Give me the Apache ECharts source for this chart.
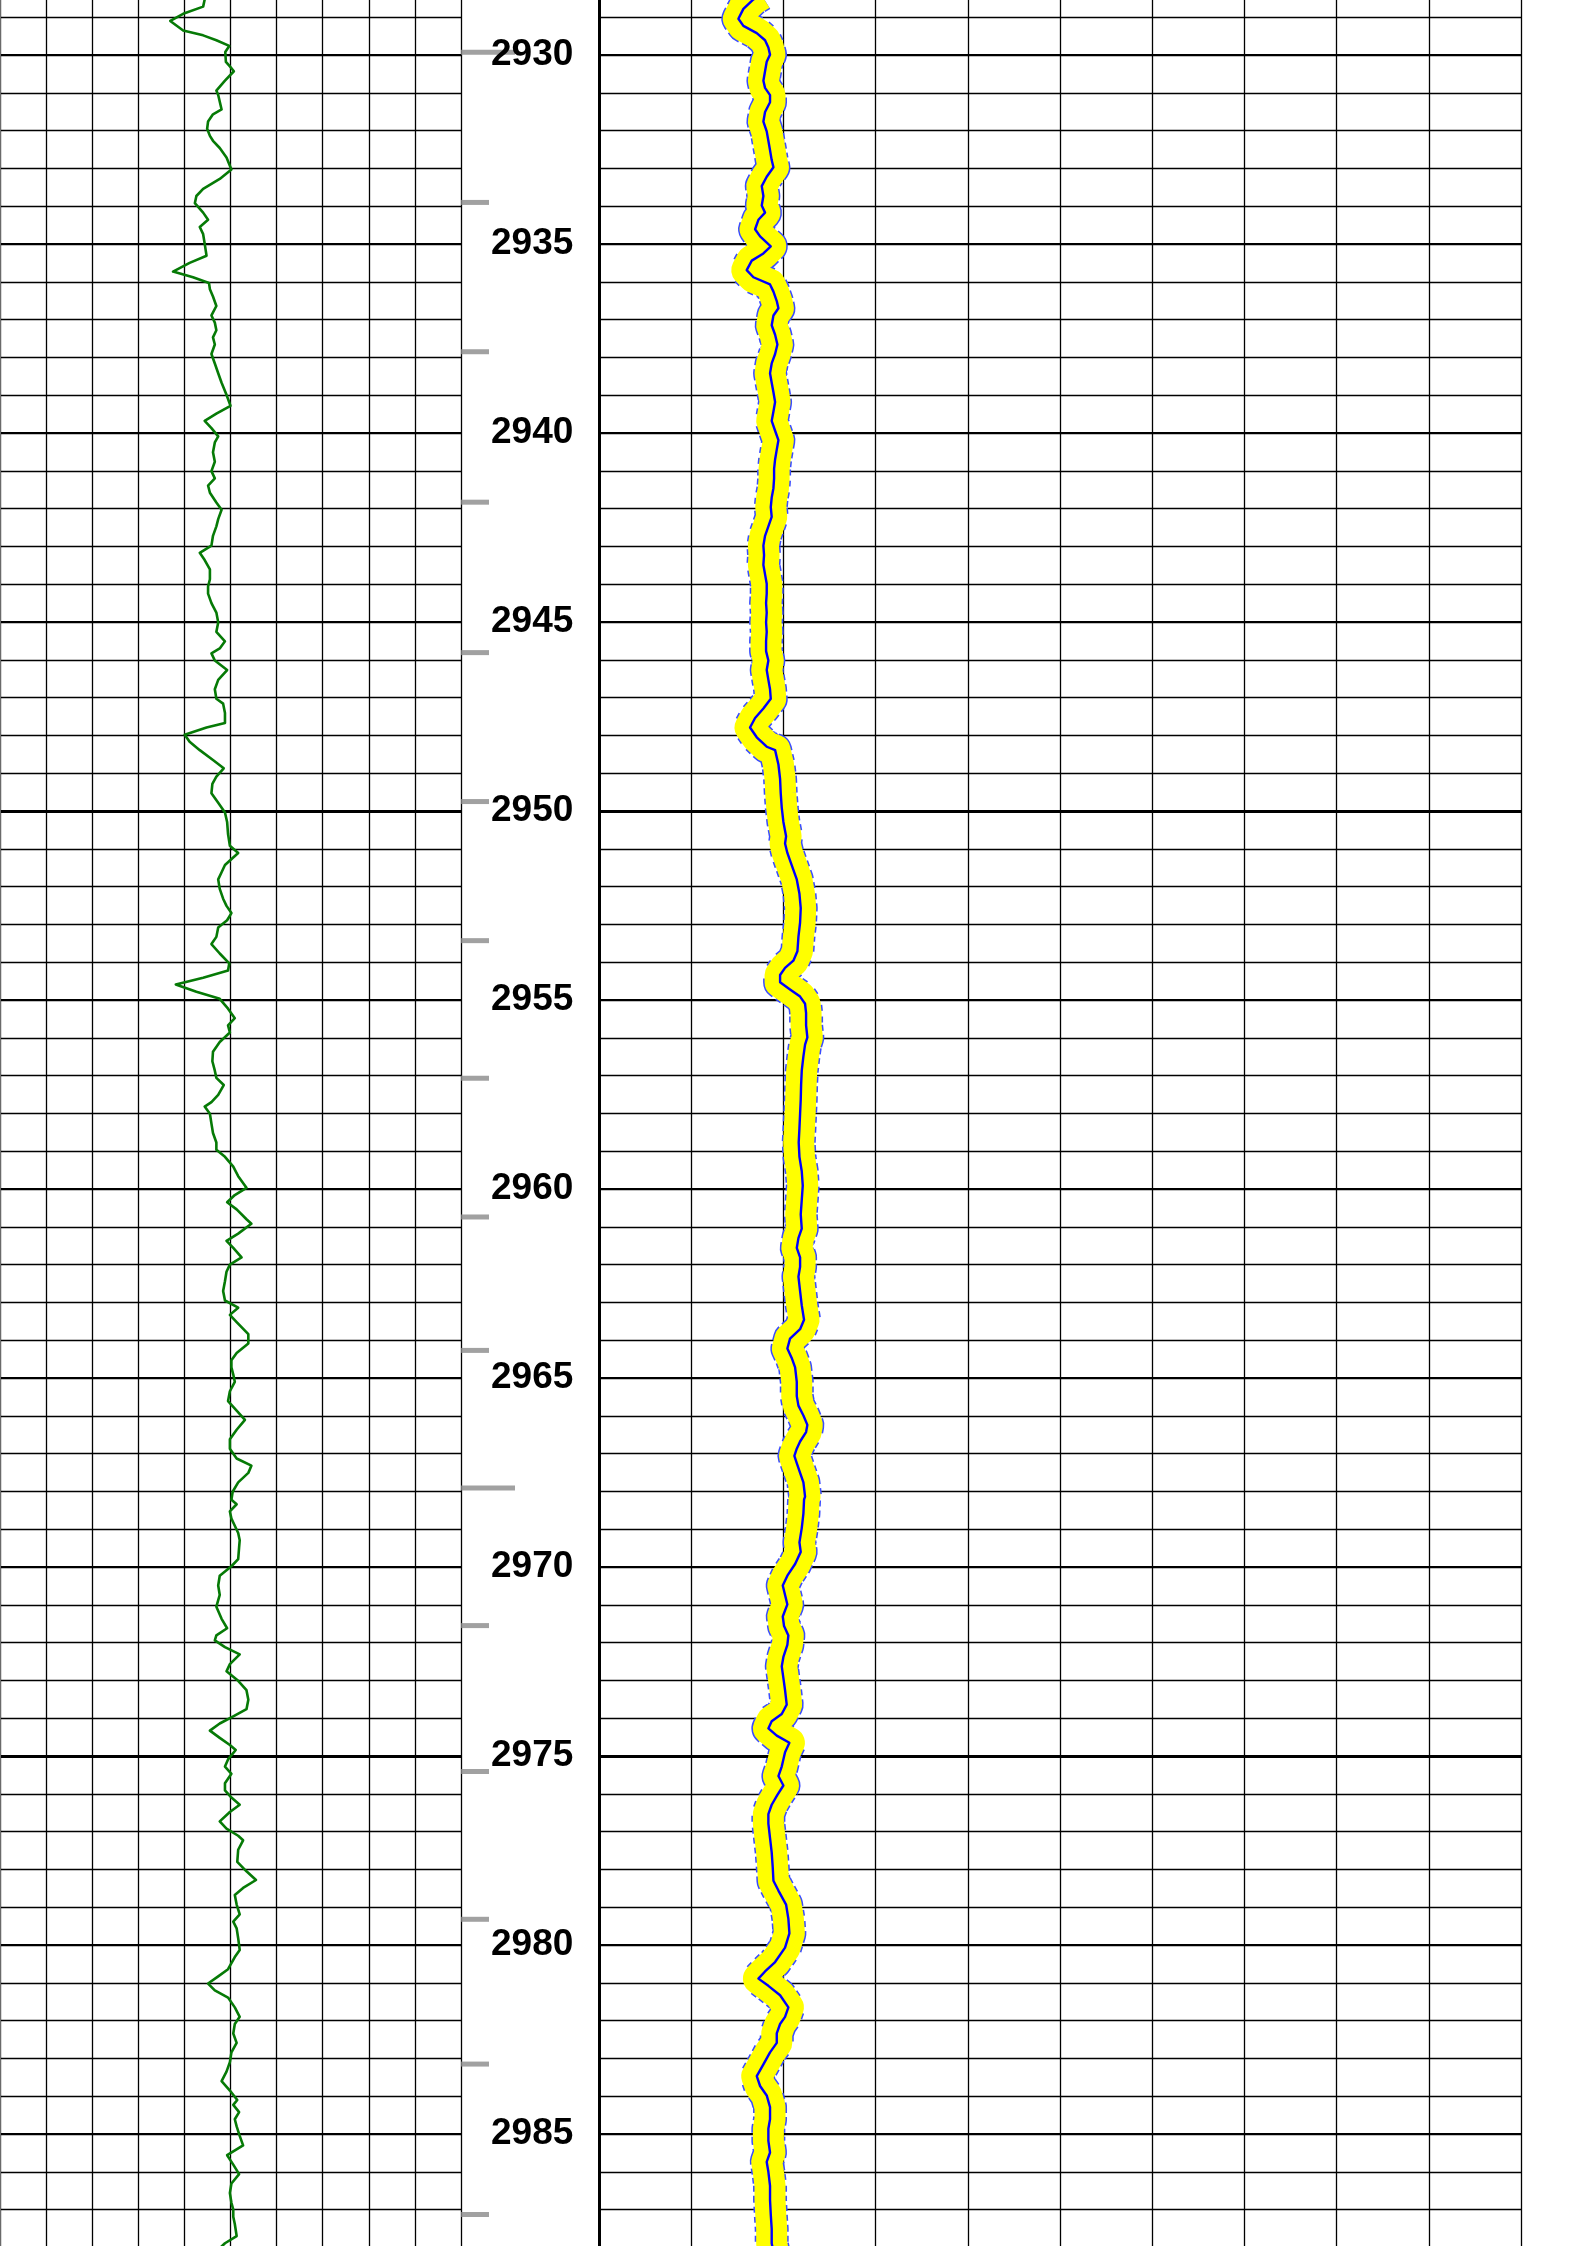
<!DOCTYPE html>
<html><head><meta charset="utf-8">
<script src="https://cdn.jsdelivr.net/npm/echarts@6/dist/echarts.min.js"></script>
<style>html,body{margin:0;padding:0;background:#fff;overflow:hidden;width:1587px;height:2246px;position:relative}#c{position:absolute;left:0;width:1587px}</style>
</head><body><div id="c"></div>
<script>
// Depth range of the axes (m); the visible window shows roughly 2928.5 - 2988
const depthMin = 2925, depthMax = 2990;

// Left track curve (green), [depth m, value] on a 0-150 scale
const greenUpper = [[2928.53,66.6],[2928.72,66.1],[2928.91,59.6],[2929.10,55.4],[2929.35,59.6],[2929.48,66.1],[2929.61,70.4],[2929.76,74.6],[2929.92,73.3],[2930.18,73.5],[2930.30,74.8],[2930.43,76.1],[2930.68,73.2],[2930.94,70.4],[2931.06,71.0],[2931.44,72.1],[2931.57,69.3],[2931.76,67.7],[2931.95,67.4],[2932.14,68.3],[2932.27,69.3],[2932.46,71.5],[2932.71,73.7],[2933.03,75.3],[2933.28,71.5],[2933.54,66.1],[2933.73,63.9],[2933.92,63.4],[2934.17,66.1],[2934.36,67.7],[2934.55,65.0],[2934.74,66.1],[2934.99,66.6],[2935.31,67.2],[2935.50,61.7],[2935.73,56.3],[2935.88,62.8],[2936.03,68.0],[2936.20,68.3],[2936.39,69.3],[2936.64,70.4],[2936.89,68.8],[2937.08,69.9],[2937.28,70.4],[2937.47,69.3],[2937.66,69.9],[2937.91,68.8],[2938.16,69.9],[2938.42,71.0],[2938.67,72.1],[2938.99,73.7],[2939.28,75.0],[2939.49,70.4],[2939.68,66.6],[2939.87,68.8],[2940.09,71.0],[2940.25,69.9],[2940.51,69.3],[2940.76,69.9],[2941.01,68.8],[2941.20,69.9],[2941.39,67.7],[2941.58,68.3],[2941.84,70.4],[2942.03,72.1],[2942.28,71.0],[2942.47,70.4],[2942.72,69.3],[2942.98,68.8],[2943.17,65.0],[2943.36,66.6],[2943.61,68.3],[2943.87,68.3],[2944.06,67.7],[2944.25,67.7],[2944.50,68.8],[2944.75,70.4],[2945.01,71.0],[2945.26,70.4],[2945.51,73.2],[2945.70,71.5],[2945.83,68.8],[2946.02,69.9],[2946.27,73.9],[2946.53,71.0],[2946.78,69.9],[2947.03,70.4],[2947.16,72.6],[2947.41,73.2],[2947.67,73.2],[2947.79,67.2],[2947.98,60.1],[2948.17,61.7]];
const greenMiddle = [[2948.39,65.0],[2948.65,69.3],[2948.87,72.8],[2949.09,70.4],[2949.28,69.1],[2949.53,68.8],[2949.78,71.0],[2950.04,73.2],[2950.29,73.9],[2950.61,74.2],[2950.92,74.8],[2951.11,77.5],[2951.43,73.2],[2951.62,72.1],[2951.81,71.0],[2952.06,71.5],[2952.32,72.6],[2952.51,73.7],[2952.70,75.3],[2952.89,73.9],[2953.08,71.0],[2953.33,70.4],[2953.52,68.8],[2953.77,71.5],[2954.03,74.6],[2954.22,74.2],[2954.41,66.1],[2954.59,57.2],[2954.78,63.9],[2954.97,71.5],[2955.23,74.2],[2955.48,76.4],[2955.67,74.2],[2955.86,74.8],[2956.11,71.5],[2956.37,69.3],[2956.62,69.1],[2956.87,69.9],[2957.06,70.4],[2957.25,72.8],[2957.51,71.0],[2957.70,68.8],[2957.82,66.6],[2958.01,68.3],[2958.27,68.8],[2958.52,69.3],[2958.77,70.4],[2958.96,70.4],[2959.15,73.2],[2959.41,75.9],[2959.66,77.5],[2959.97,80.2],[2960.16,76.4],[2960.35,73.9],[2960.54,77.0],[2960.80,80.2],[2960.92,81.8],[2961.18,77.5],[2961.37,73.7],[2961.56,75.9],[2961.81,78.6],[2962.00,74.8],[2962.19,73.7],[2962.44,73.2],[2962.70,72.6],[2962.95,73.2],[2963.14,77.5],[2963.33,74.8],[2963.52,77.0],[2963.84,80.8],[2964.09,80.8],[2964.34,77.0],[2964.53,75.3],[2964.72,75.3],[2964.91,75.9],[2965.10,76.4],[2965.35,74.8],[2965.61,74.2],[2965.86,77.0],[2966.11,79.7],[2966.37,77.0],[2966.62,74.8],[2966.87,74.8],[2967.13,77.0],[2967.32,81.8],[2967.51,80.8],[2967.76,77.5],[2968.01,75.7]];
const greenLower = [[2968.22,75.3],[2968.34,77.0],[2968.53,74.8],[2968.72,75.3],[2968.91,76.4],[2969.10,77.5],[2969.29,78.0],[2969.48,77.8],[2969.79,77.5],[2969.98,75.3],[2970.23,71.5],[2970.49,71.0],[2970.74,71.5],[2971.05,70.4],[2971.37,72.1],[2971.62,73.9],[2971.81,70.4],[2971.94,69.9],[2972.12,73.2],[2972.31,78.0],[2972.57,74.8],[2972.76,73.7],[2973.01,77.5],[2973.26,80.2],[2973.51,80.8],[2973.76,80.2],[2973.95,75.9],[2974.14,71.5],[2974.33,68.3],[2974.52,71.5],[2974.71,74.8],[2974.84,76.7],[2975.09,74.2],[2975.28,73.2],[2975.47,75.3],[2975.72,73.2],[2975.91,73.2],[2976.10,75.3],[2976.29,78.0],[2976.48,74.8],[2976.73,71.5],[2976.92,73.7],[2977.11,77.5],[2977.23,79.1],[2977.48,77.5],[2977.80,77.2],[2978.05,80.2],[2978.28,83.3],[2978.49,79.1],[2978.68,76.4],[2978.93,77.0],[2979.19,78.0],[2979.38,75.9],[2979.56,77.0],[2979.82,77.5],[2980.13,78.0],[2980.32,76.4],[2980.64,74.2],[2980.83,71.0],[2981.02,67.7],[2981.20,69.9],[2981.39,74.2],[2981.65,76.4],[2981.90,78.0],[2982.09,76.4],[2982.34,75.9],[2982.59,77.0],[2982.84,75.3],[2983.10,74.8],[2983.35,73.7],[2983.60,72.1],[2983.85,74.8],[2984.10,77.2],[2984.23,75.9],[2984.42,77.8],[2984.61,76.4],[2984.80,77.0],[2985.05,78.0],[2985.30,79.1],[2985.56,73.9],[2985.81,75.9],[2986.06,77.8],[2986.31,75.3],[2986.56,74.8],[2986.82,75.3],[2987.00,75.9],[2987.19,75.9],[2987.38,76.4],[2987.70,77.0],[2987.89,73.2],[2988.10,70.5]];

// Right track curve (blue with yellow band), [depth m, value] on a 0-100 scale
const blueUpper = [[2928.40,17.60],[2928.53,16.75],[2928.78,15.66],[2929.04,15.12],[2929.23,15.66],[2929.42,17.11],[2929.61,18.01],[2929.80,18.37],[2929.99,18.55],[2930.18,18.19],[2930.43,18.01],[2930.68,17.83],[2930.87,18.01],[2931.06,18.55],[2931.25,18.55],[2931.51,18.01],[2931.76,17.83],[2932.02,18.19],[2932.27,18.37],[2932.52,18.55],[2932.78,18.73],[2932.97,18.92],[2933.22,18.19],[2933.47,17.65],[2933.73,17.83],[2933.98,17.65],[2934.17,18.01],[2934.36,17.29],[2934.61,16.93],[2934.80,17.47],[2935.06,18.63],[2935.25,17.83],[2935.44,16.57],[2935.69,16.02],[2935.88,16.75],[2936.07,18.55],[2936.26,18.92],[2936.51,19.28],[2936.70,19.46],[2936.89,18.92],[2937.15,18.73],[2937.40,19.10],[2937.66,19.35],[2937.91,19.10],[2938.16,18.73],[2938.42,18.55],[2938.67,18.73],[2938.92,18.92],[2939.18,19.10],[2939.43,18.92],[2939.68,18.73],[2939.94,19.10],[2940.19,19.46],[2940.44,19.28],[2940.70,19.10],[2940.95,18.99],[2941.20,18.99],[2941.46,18.92],[2941.71,18.73],[2941.96,18.63],[2942.22,18.73],[2942.47,18.37],[2942.72,18.01],[2942.98,17.83],[2943.23,17.90],[2943.49,17.83],[2943.74,18.01],[2943.99,18.19],[2944.25,18.19],[2944.50,18.12],[2944.75,18.19],[2945.01,18.12],[2945.26,18.19],[2945.51,18.12],[2945.77,18.12],[2946.02,18.37],[2946.27,18.19],[2946.53,18.37],[2946.78,18.55],[2947.03,18.63],[2947.29,17.83],[2947.54,16.93],[2947.79,16.38],[2948.05,17.11],[2948.30,18.19]];
const blueMiddle = [[2948.39,19.10],[2948.77,19.46],[2949.15,19.64],[2949.53,19.71],[2949.91,19.82],[2950.29,20.00],[2950.67,20.29],[2950.86,20.18],[2951.11,20.43],[2951.43,20.90],[2951.81,21.45],[2952.19,21.74],[2952.57,21.88],[2952.95,21.81],[2953.33,21.63],[2953.71,21.52],[2953.96,21.08],[2954.15,20.18],[2954.34,19.64],[2954.53,19.64],[2954.72,20.72],[2954.91,21.81],[2955.10,22.35],[2955.35,22.46],[2955.67,22.46],[2955.99,22.60],[2956.18,22.35],[2956.49,22.17],[2956.87,21.99],[2957.25,21.92],[2957.63,21.88],[2958.01,21.81],[2958.39,21.74],[2958.77,21.66],[2959.15,21.74],[2959.53,21.99],[2959.91,22.10],[2960.29,21.99],[2960.67,21.88],[2961.05,21.99],[2961.30,21.63],[2961.56,21.45],[2961.81,21.81],[2962.06,21.81],[2962.32,21.63],[2962.70,21.81],[2963.08,21.99],[2963.46,22.24],[2963.71,21.81],[2963.96,20.72],[2964.22,20.43],[2964.47,20.90],[2964.72,21.27],[2965.10,21.45],[2965.48,21.45],[2965.73,21.63],[2965.99,22.17],[2966.24,22.60],[2966.43,22.46],[2966.68,21.81],[2966.87,21.45],[2967.06,21.19],[2967.25,21.45],[2967.51,21.81],[2967.76,22.17],[2968.14,22.35]];
const blueLower = [[2968.22,22.24],[2968.59,22.17],[2968.97,21.99],[2969.35,21.74],[2969.60,21.88],[2969.92,21.27],[2970.23,20.43],[2970.49,19.93],[2970.74,20.18],[2970.99,20.43],[2971.31,19.93],[2971.56,20.07],[2971.81,20.54],[2972.06,20.43],[2972.38,20.00],[2972.63,19.82],[2972.94,20.00],[2973.26,20.18],[2973.64,20.36],[2973.89,19.82],[2974.08,18.73],[2974.27,18.37],[2974.46,19.28],[2974.65,20.65],[2974.90,20.18],[2975.28,19.82],[2975.53,19.46],[2975.78,20.00],[2976.03,19.35],[2976.29,18.73],[2976.54,18.37],[2976.79,18.37],[2977.17,18.55],[2977.55,18.73],[2977.93,18.84],[2978.30,18.92],[2978.56,19.46],[2978.93,20.29],[2979.31,20.54],[2979.69,20.65],[2980.07,20.18],[2980.45,19.10],[2980.70,18.01],[2980.89,17.29],[2981.08,18.37],[2981.33,19.64],[2981.65,20.54],[2981.90,20.18],[2982.09,19.64],[2982.34,19.28],[2982.59,19.28],[2982.84,18.55],[2983.16,17.83],[2983.47,17.11],[2983.73,17.47],[2983.98,18.19],[2984.29,18.55],[2984.61,18.55],[2984.86,18.37],[2985.18,18.37],[2985.49,18.55],[2985.74,18.19],[2986.00,18.37],[2986.37,18.55],[2986.75,18.55],[2987.13,18.63],[2987.51,18.73],[2987.89,18.73],[2988.10,18.90]];

// Depth-track marker ticks (m) and which of them are long
const markerDepths = [2929.93, 2933.90, 2937.85, 2941.83, 2945.81, 2949.75, 2953.43, 2957.07, 2960.74, 2964.27, 2967.91, 2971.55, 2975.41, 2979.32, 2983.15, 2987.13];
const longMarkerDepths = [2929.93, 2967.91];

// ---- layout ----
const PX_PER_M = 37.805;
const offsetTop = -134;                                   // container shifted up so 2930 sits at y~55
const fullH = Math.round((depthMax - depthMin) * PX_PER_M);
const box = document.getElementById('c');
box.style.top = offsetTop + 'px';
box.style.height = fullH + 'px';

const tracks = [
  {left: 0, width: 461},
  {left: 461, width: 138},
  {left: 599, width: 922}
];
const toXY = arr => arr.map(p => [p[1], p[0]]);
const greenData = toXY(greenUpper.concat(greenMiddle, greenLower));
const blueData = toXY(blueUpper.concat(blueMiddle, blueLower));

function depthAxis(grid, interval, width, extra) {
  return Object.assign({
    type: 'value', gridIndex: grid, min: depthMin, max: depthMax, interval: interval,
    inverse: true, axisLabel: {show: false}, axisTick: {show: false}, axisLine: {show: false},
    splitLine: {show: true, lineStyle: {color: '#000', width: width}}
  }, extra || {});
}

const option = {
  animation: false,
  backgroundColor: '#ffffff',
  grid: tracks.map(t => ({left: t.left, width: t.width, top: 0, height: fullH, containLabel: false, outerBoundsMode: 'none'})),
  xAxis: [
    {type: 'value', gridIndex: 0, min: 0, max: 150, interval: 15, axisLabel: {show: false}, axisTick: {show: false}, axisLine: {show: false}, splitLine: {show: true, lineStyle: {color: '#000', width: 1.3}}},
    {type: 'value', gridIndex: 1, min: 0, max: 1, show: false},
    {type: 'value', gridIndex: 2, min: 0, max: 100, interval: 10, axisLabel: {show: false}, axisTick: {show: false}, axisLine: {show: false}, splitLine: {show: true, lineStyle: {color: '#000', width: 1.3}}}
  ],
  yAxis: [
    depthAxis(0, 1, 1.4, {position: 'right', axisLine: {show: true, lineStyle: {color: '#6a6a6a', width: 2}}}),
    depthAxis(0, 5, 2.2, {position: 'right'}),
    depthAxis(0, 25, 3, {position: 'right'}),
    {type: 'value', gridIndex: 1, min: depthMin, max: depthMax, interval: 5, inverse: true, position: 'left', z: 10,
      axisLine: {show: false}, axisTick: {show: false}, splitLine: {show: false},
      axisLabel: {show: true, inside: true, margin: 30, showMinLabel: false, showMaxLabel: false, color: '#000', fontSize: 37, fontWeight: 'bold', fontFamily: 'Liberation Sans, Arial, sans-serif', formatter: v => String(v)}},
    depthAxis(2, 1, 1.4, {position: 'left', axisLine: {show: true, lineStyle: {color: '#000', width: 3}}}),
    depthAxis(2, 5, 2.2, {position: 'left'}),
    depthAxis(2, 25, 3, {position: 'left'})
  ],
  series: [
    {type: 'line', xAxisIndex: 0, yAxisIndex: 0, data: greenData, showSymbol: false, z: 5,
      lineStyle: {color: '#067a06', width: 2.6, join: 'round'}},
    {type: 'scatter', xAxisIndex: 1, yAxisIndex: 3, z: 1, symbol: 'rect', symbolSize: [28, 5], symbolOffset: [14, 0],
      itemStyle: {color: '#8a8a8a'}, data: markerDepths.filter(d => longMarkerDepths.indexOf(d) < 0).map(d => [0, d])},
    {type: 'scatter', xAxisIndex: 1, yAxisIndex: 3, z: 1, symbol: 'rect', symbolSize: [54, 5], symbolOffset: [27, 0],
      itemStyle: {color: '#8a8a8a'}, data: longMarkerDepths.map(d => [0, d])},
    {type: 'line', xAxisIndex: 2, yAxisIndex: 4, data: blueData, showSymbol: false, z: 3,
      lineStyle: {color: '#3a4cff', width: 34, type: [6, 4], cap: 'butt', join: 'round'}},
    {type: 'line', xAxisIndex: 2, yAxisIndex: 4, data: blueData, showSymbol: false, z: 4,
      lineStyle: {color: '#ffff00', width: 31, cap: 'butt', join: 'round'}},
    {type: 'line', xAxisIndex: 2, yAxisIndex: 4, data: blueData, showSymbol: false, z: 6,
      lineStyle: {color: '#0000ff', width: 2.4, join: 'round'}}
  ]
};
const chart = echarts.init(box, null, {renderer: 'canvas'});
chart.setOption(option);
</script>
</body></html>
